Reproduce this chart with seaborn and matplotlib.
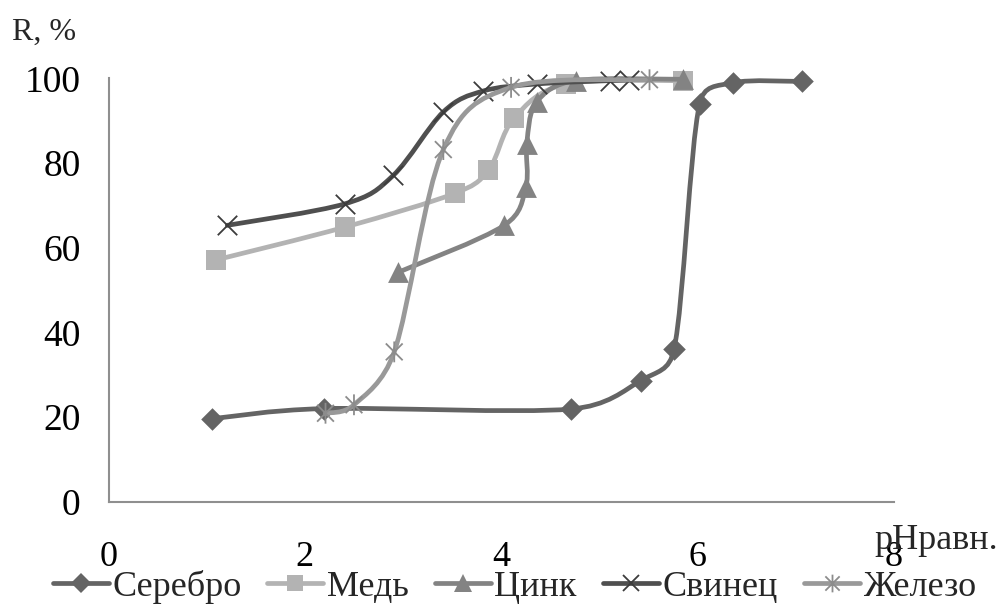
import numpy as np
import matplotlib
matplotlib.use("Agg")
import matplotlib.pyplot as plt
from matplotlib.path import Path
from matplotlib.patches import PathPatch
from matplotlib.lines import Line2D
from matplotlib.markers import MarkerStyle
import seaborn as sns

# Extraction degree R (%) versus equilibrium pH for each metal
ph_silver = [1.05, 2.19, 4.71, 5.42, 5.76, 6.02, 6.36, 7.06]
r_silver = [19.6, 22.0, 21.9, 28.6, 36.0, 94.0, 99.0, 99.3]

ph_copper = [1.09, 2.41, 3.53, 3.87, 4.13, 4.66, 5.85]
r_copper = [57.1, 64.9, 72.9, 78.3, 90.6, 98.7, 99.5]

ph_zinc = [2.95, 4.03, 4.25, 4.26, 4.36, 4.76, 5.85]
r_zinc = [54.2, 65.3, 74.4, 84.6, 94.4, 99.5, 99.8]

ph_lead = [1.21, 2.41, 2.90, 3.41, 3.81, 4.36, 5.11, 5.30]
r_lead = [65.3, 70.4, 77.1, 92.1, 97.0, 98.7, 99.5, 99.6]

ph_iron = [2.21, 2.50, 2.91, 3.41, 4.10, 5.51]
r_iron = [20.9, 22.9, 35.4, 83.2, 97.9, 99.7]

series_names = ["Серебро", "Медь", "Цинк", "Свинец", "Железо"]
x_ticks = [0, 2, 4, 6, 8]
y_ticks = [0, 20, 40, 60, 80, 100]

# Asterisk marker: a cross plus a vertical stroke
star_path = Path(
    [(-0.5, -0.5), (0.5, 0.5), (-0.5, 0.5), (0.5, -0.5), (0, -0.62), (0, 0.62)],
    [Path.MOVETO, Path.LINETO, Path.MOVETO, Path.LINETO, Path.MOVETO, Path.LINETO],
)
star_marker = MarkerStyle(star_path, fillstyle="none")

styles = [
    dict(color="#646464", marker="D", ms=11.5, filled=True),
    dict(color="#b3b3b3", marker="s", ms=14, filled=True),
    dict(color="#838383", marker="^", ms=15, filled=True),
    dict(color="#4f4f4f", marker="x", ms=14, filled=False, mcolor="#3c3c3c"),
    dict(color="#999999", marker=star_marker, ms=15, filled=False, mcolor="#8c8c8c"),
]
data = [
    (ph_silver, r_silver),
    (ph_copper, r_copper),
    (ph_zinc, r_zinc),
    (ph_lead, r_lead),
    (ph_iron, r_iron),
]

sns.set_theme(style="white")
plt.rcParams["font.family"] = ["Liberation Serif", "DejaVu Serif"]
plt.rcParams["font.size"] = 26

FIG_W, FIG_H = 10.03, 6.06
AX_RECT = [0.1082, 0.1721, 0.7831, 0.6984]
fig = plt.figure(figsize=(FIG_W, FIG_H), dpi=100)
ax = fig.add_axes(AX_RECT)
ax.set_xlim(0, 8)
ax.set_ylim(0, 100)

# screen scale of one data unit (pixels), used to shape the smoothed curves
SX = AX_RECT[2] * FIG_W * 100 / 8.0
SY = AX_RECT[3] * FIG_H * 100 / 100.0


def smooth_path(xs, ys, limit=0.5):
    """Cardinal Bezier through the points; tangents are capped relative to
    the neighbouring segment length so steep jumps do not overshoot."""
    pts = np.column_stack([np.asarray(xs) * SX, np.asarray(ys) * SY]).astype(float)
    n = len(pts)
    tangents = []
    for i in range(n):
        a = pts[i - 1] if i > 0 else pts[i]
        b = pts[i + 1] if i + 1 < n else pts[i]
        tangents.append((b - a) / 6.0)
    verts = [pts[0]]
    codes = [Path.MOVETO]
    for i in range(n - 1):
        p0, p1 = pts[i], pts[i + 1]
        seg = np.linalg.norm(p1 - p0)
        t0, t1 = tangents[i], tangents[i + 1]
        n0, n1 = np.linalg.norm(t0), np.linalg.norm(t1)
        if n0 > limit * seg:
            t0 = t0 * (limit * seg / n0)
        if n1 > limit * seg:
            t1 = t1 * (limit * seg / n1)
        verts += [p0 + t0, p1 - t1, p1]
        codes += [Path.CURVE4] * 3
    verts = np.array(verts)
    verts[:, 0] /= SX
    verts[:, 1] /= SY
    return Path(verts, codes)


LW = 3.4
for k, ((xs, ys), st) in enumerate(zip(data, styles)):
    patch = PathPatch(smooth_path(xs, ys), facecolor="none", edgecolor=st["color"],
                      lw=LW, capstyle="round", joinstyle="round", zorder=2 + 2 * k,
                      clip_on=False)
    ax.add_patch(patch)
    mcol = st.get("mcolor", st["color"])
    if st["filled"]:
        sns.scatterplot(x=xs, y=ys, marker=st["marker"], s=st["ms"] ** 2, color=mcol,
                        edgecolor=mcol, linewidth=0, ax=ax, zorder=3 + 2 * k,
                        clip_on=False, legend=False)
    else:
        sns.scatterplot(x=xs, y=ys, marker=st["marker"], s=st["ms"] ** 2, color=mcol,
                        linewidth=1.3, ax=ax, zorder=3 + 2 * k,
                        clip_on=False, legend=False)

ax.set_xlim(0, 8)
ax.set_ylim(0, 100)
ax.set_xticks(x_ticks)
ax.set_yticks(y_ticks)
ax.set_xticklabels([str(t) for t in x_ticks])
ax.set_yticklabels([str(t) for t in y_ticks])
ax.set_xlabel("")
ax.set_ylabel("")

axis_gray = "#8f8f8f"
for side in ["top", "right"]:
    ax.spines[side].set_visible(False)
for side in ["left", "bottom"]:
    ax.spines[side].set_color(axis_gray)
    ax.spines[side].set_linewidth(1.5)
ax.tick_params(axis="both", which="major", direction="out", length=7.2, width=1.5,
               color=axis_gray, labelsize=27, labelcolor="black")
ax.tick_params(axis="x", pad=21, labelsize=26)
ax.tick_params(axis="y", pad=13)
ax.grid(False)

fig.text(12 / 1003, 1 - 40 / 606, "R, %", fontsize=23, ha="left", va="baseline")
fig.text(874 / 1003, 1 - 549 / 606, "pHравн.", fontsize=26, ha="left", va="baseline")

handles = []
for st in styles:
    mcol = st.get("mcolor", st["color"])
    h = Line2D([0], [0], color=st["color"], lw=LW, marker=st["marker"],
               markersize=st["ms"] * 0.85, markerfacecolor=mcol if st["filled"] else "none",
               markeredgecolor=mcol, markeredgewidth=0 if st["filled"] else 1.3,
               solid_capstyle="round")
    handles.append(h)

fig.legend(handles, series_names, loc="center", bbox_to_anchor=(0.513, 1 - 587 / 606),
           ncol=5, frameon=False, fontsize=26, handlelength=1.55, handletextpad=0.1,
           columnspacing=0.72, borderaxespad=0, borderpad=0)

fig.savefig("out.png", dpi=100, facecolor="white")
